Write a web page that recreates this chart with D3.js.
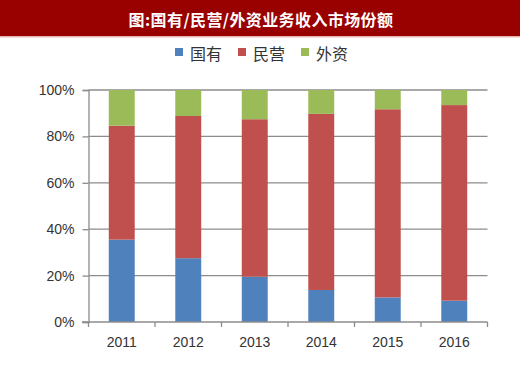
<!DOCTYPE html>
<html><head><meta charset="utf-8">
<script src="https://cdn.jsdelivr.net/npm/d3@7"></script>
<style>body{margin:0;background:#fff}svg{display:block}</style>
</head><body>
<svg id="c" width="520" height="366"></svg>
<script>
const title = "图:国有/民营/外资业务收入市场份额";
const years = ["2011","2012","2013","2014","2015","2016"];
const seriesNames = ["国有","民营","外资"];
const stateOwned = [35.5, 27.5, 19.5, 13.8, 10.6, 9.2];
const privateOwned = [49.1, 61.3, 67.9, 75.9, 81.1, 84.3];
const foreignOwned = [15.4, 11.2, 12.6, 10.3, 8.3, 6.5];
const colors = ["#4f81bd","#c0504d","#9bbb59"];
const yTicks = [0, 20, 40, 60, 80, 100];

const svg = d3.select("#c");
svg.append("rect").attr("x",0).attr("y",0).attr("width",520).attr("height",36).attr("fill","#990000");
svg.append("rect").attr("x",0).attr("y",36).attr("width",520).attr("height",1.5).attr("fill","#e8b4b4");
svg.append("text").attr("x",261).attr("y",19).attr("text-anchor","middle").attr("dominant-baseline","central")
  .attr("fill","#fff").attr("font-family","Noto Sans CJK SC").attr("font-weight","bold").attr("font-size",16)
  .attr("letter-spacing",0.4).text(title);

// legend
const legX = [175, 238, 301];
seriesNames.forEach((n,i)=>{
  svg.append("rect").attr("x",legX[i]).attr("y",48).attr("width",8).attr("height",8).attr("fill",colors[i]);
  svg.append("text").attr("x",legX[i]+15).attr("y",53).attr("dominant-baseline","central")
    .attr("font-family","Noto Sans CJK SC").attr("font-size",16).attr("fill","#333").text(n);
});

const data = years.map((y,i)=>({year:y, "国有":stateOwned[i], "民营":privateOwned[i], "外资":foreignOwned[i]}));
const stack = d3.stack().keys(seriesNames)(data);

const x = d3.scaleBand().domain(years).range([88.5, 487.5]).paddingInner(0.61).paddingOuter(0.305);
const y = d3.scaleLinear().domain([0,100]).range([322, 90]);

const g = svg.append("g");
g.selectAll(".grid").data(yTicks.slice(1)).join("line")
  .attr("x1",88.5).attr("x2",487.5).attr("y1",d=>y(d)).attr("y2",d=>y(d))
  .attr("stroke","#8c8c8c").attr("stroke-width",1.3);

stack.forEach((s,i)=>{
  g.selectAll(null).data(s).join("rect")
    .attr("x",d=>x(d.data.year)).attr("width",x.bandwidth())
    .attr("y",d=>y(d[1])).attr("height",d=>y(d[0])-y(d[1]))
    .attr("fill",colors[i]);
});

// y axis
const yAxis = d3.axisLeft(y).tickValues(yTicks).tickFormat(d=>d+"%").tickSize(6).tickPadding(8);
const ya = svg.append("g").attr("transform","translate(88.5,0)").call(yAxis);
ya.select(".domain").attr("stroke","#8c8c8c").attr("stroke-width",1.3);
ya.selectAll(".tick line").attr("stroke","#8c8c8c").attr("stroke-width",1.3);
ya.selectAll("text").attr("font-family","Liberation Sans").attr("font-size",14).attr("fill","#333");

// x axis
const xEdges = years.map(d=>x(d)-x.step()*x.paddingInner()/2).concat([487.5]);
const xa = svg.append("g");
xa.append("line").attr("x1",82).attr("x2",487.5).attr("y1",322).attr("y2",322).attr("stroke","#8c8c8c").attr("stroke-width",1.3);
xa.selectAll(".xt").data(xEdges).join("line").attr("x1",d=>d).attr("x2",d=>d).attr("y1",322).attr("y2",327)
  .attr("stroke","#8c8c8c").attr("stroke-width",1.3);
xa.selectAll(".xl").data(years).join("text").attr("x",d=>x(d)+x.bandwidth()/2).attr("y",342)
  .attr("text-anchor","middle").attr("dominant-baseline","central")
  .attr("font-family","Liberation Sans").attr("font-size",14).attr("fill","#333").text(d=>d);
</script>
</body></html>
